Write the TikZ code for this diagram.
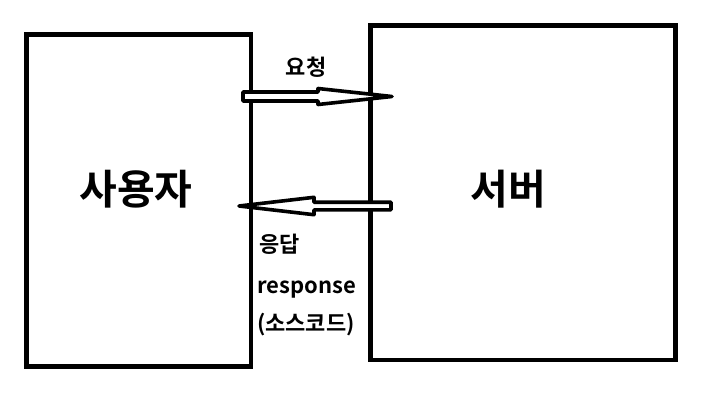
\documentclass[tikz,border=0pt]{standalone}
\usepackage{fontspec}
\newfontfamily\krfont{Noto Sans CJK KR Bold}
\usepackage{xcolor}
\definecolor{InkBlack}{HTML}{000000}
\usepackage{tikz}
\usetikzlibrary{positioning,calc}
\tikzset{
  pbox/.style={draw=InkBlack,line width=4.6pt},
  bigtext/.style={font=\krfont\fontsize{41}{45}\selectfont,inner sep=0pt},
  smalltext/.style={font=\krfont\fontsize{22}{26}\selectfont,inner sep=0pt,anchor=west},
  harrow/.style={draw=InkBlack,fill=white,line width=3.6pt,line join=round}
}

\begin{document}
\begin{tikzpicture}[x=1pt,y=-1pt]
  \useasboundingbox (0,0) rectangle (720,413);
  % boxes
  \draw[pbox] (26.5,34.5) rectangle (251,366.5);
  \draw[pbox] (370.5,25.5) rectangle (675.5,360);
  \node[bigtext] (user) at (136,189) {사용자};
  \node[bigtext] (server) at (508,189) {서버};
  % request arrow
  \coordinate (reqtail) at (243,96.5);
  \coordinate (reqtip) at (392,96.5);
  \draw[harrow] (reqtail) ++(0,-4.5) -- ++(75,0) -- ++(0,-3.5) -- (reqtip)
    -- ++(-74,8) -- ++(0,-3.5) -- ++(-75,0) -- cycle;
  \node[smalltext,anchor=center] (req) at (306,67) {요청};
  % response arrow
  \coordinate (restail) at (391,206);
  \coordinate (restip) at (239,206);
  \draw[harrow] (restail) ++(0,-3.8) -- ++(-77,0) -- ++(0,-4.9) -- (restip)
    -- ++(75,8.7) -- ++(0,-4.9) -- ++(77,0) -- cycle;
  \node[smalltext] (res) at (259,244) {응답};
  \node[smalltext] (resen) at (257,290) {response};
  \node[smalltext] (src) at (257,325) {(소스코드)};
\end{tikzpicture}
\end{document}
